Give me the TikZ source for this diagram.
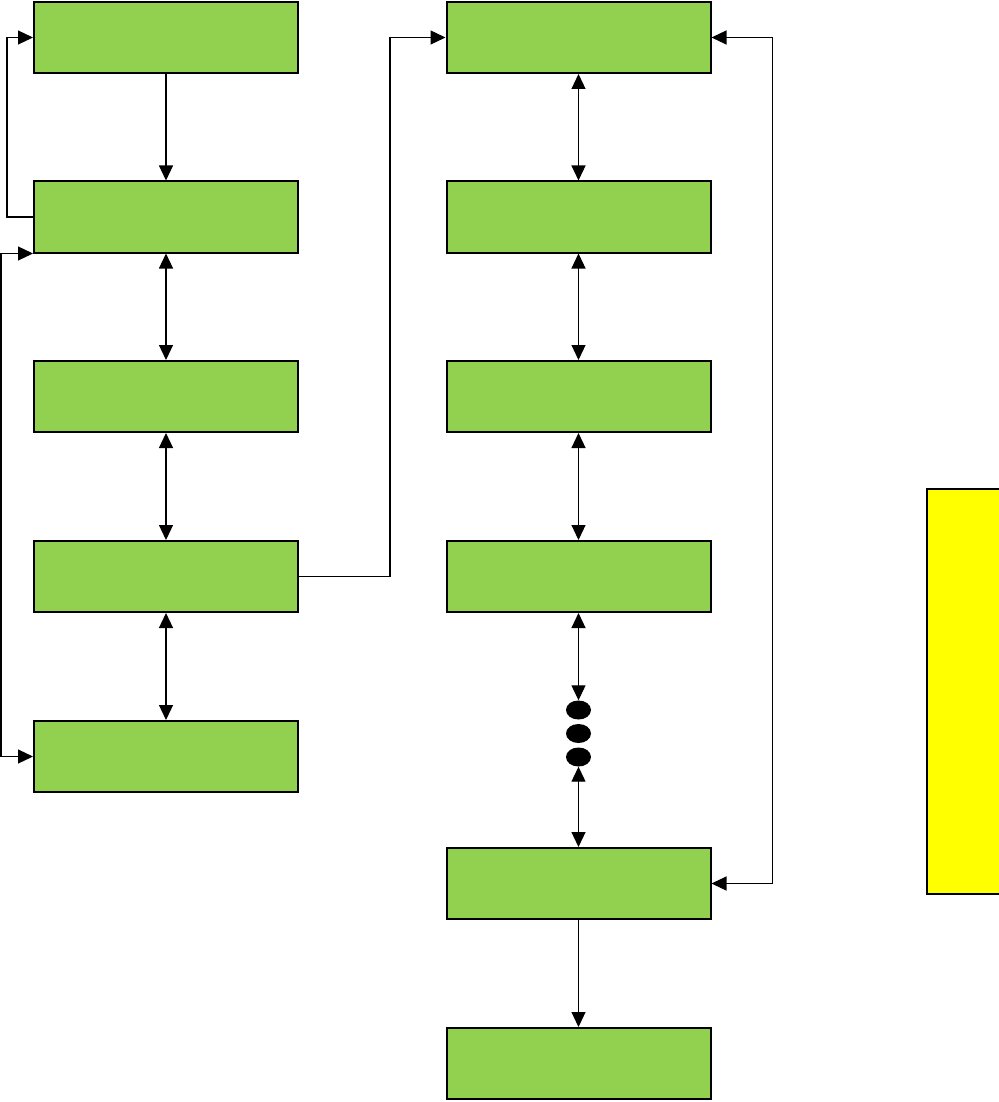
\documentclass[tikz,border=0pt]{standalone}
\usetikzlibrary{arrows.meta,positioning,shapes.geometric}
\definecolor{BoxGreen}{HTML}{92D050}
\definecolor{NoteYellow}{HTML}{FFFF00}

\begin{document}
\begin{tikzpicture}[x=1pt,y=-1pt,
  b/.style={draw,fill=BoxGreen,line width=2pt,minimum width=264pt,minimum height=71pt,inner sep=0pt},
  dt/.style={ellipse,fill=black,minimum width=25pt,minimum height=19pt,inner sep=0pt},
  e/.style={-{Triangle[length=15pt,width=14pt]},line width=1.2pt},
  ee/.style={{Triangle[length=15pt,width=14pt]}-{Triangle[length=15pt,width=14pt]},line width=1.2pt}]
  \useasboundingbox (0,0) rectangle (998,1102);
  % left column
  \node[b] (l1) at (166,37.5)  {};
  \node[b] (l2) at (166,217)   {};
  \node[b] (l3) at (166,396.5) {};
  \node[b] (l4) at (166,576.5) {};
  \node[b] (l5) at (166,756.5) {};
  % right column
  \node[b] (r1) at (578.5,37.5)   {};
  \node[b] (r2) at (578.5,217)    {};
  \node[b] (r3) at (578.5,396.5)  {};
  \node[b] (r4) at (578.5,576.5)  {};
  \node[dt] (d1) at (578.5,710)   {};
  \node[dt] (d2) at (578.5,733.5) {};
  \node[dt] (d3) at (578.5,757)   {};
  \node[b] (r5) at (578.5,883.5)  {};
  \node[b] (r6) at (578.5,1063.5) {};
  % note
  \node[draw,fill=NoteYellow,line width=1.2pt,minimum width=80pt,minimum height=405pt,inner sep=0pt] (note) at (967,691.5) {};
  % connectors
  \draw[e] (l1) -- (l2);
  \draw[e] (l2.west) -- ++(-26,0) |- (l1.west);
  \draw[ee] (l2.south west) -- ++(-32,0) |- (l5.west);
  \draw[ee] (l2) -- (l3);
  \draw[ee] (l3) -- (l4);
  \draw[ee] (l4) -- (l5);
  \draw[e] (l4.east) -- ++(91,0) |- (r1.west);
  \draw[ee] (r1) -- (r2);
  \draw[ee] (r2) -- (r3);
  \draw[ee] (r3) -- (r4);
  \draw[ee] (r4) -- (d1);
  \draw[ee] (d3) -- (r5);
  \draw[e] (r5) -- (r6);
  \draw[ee] (r5.east) -- ++(61,0) |- (r1.east);
\end{tikzpicture}
\end{document}
